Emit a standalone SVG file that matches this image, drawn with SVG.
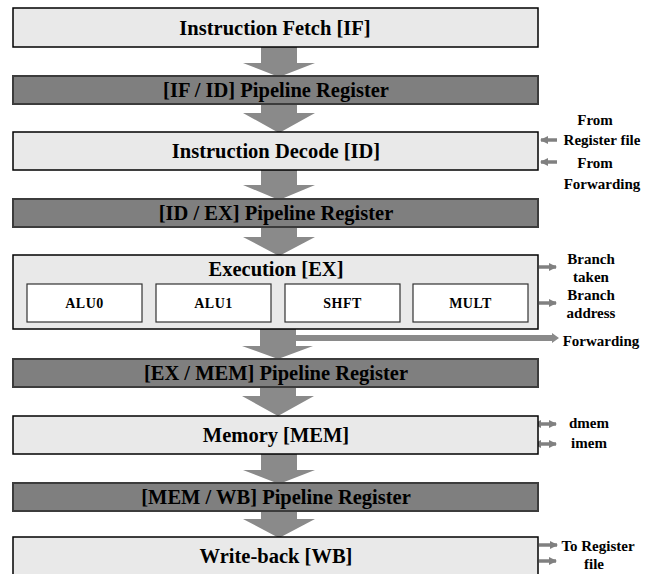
<svg xmlns="http://www.w3.org/2000/svg" width="650" height="574" viewBox="0 0 650 574">
<style>
.stage{fill:#e9e9e9;stroke:#000;stroke-width:1.5}
.reg{fill:#7f7f7f;stroke:#3c3c3c;stroke-width:2}
.unit{fill:#fff;stroke:#333;stroke-width:1.2}
.arrow{fill:#8a8a8a;stroke:none}
.side{stroke:#808080;stroke-width:3.5;fill:none}
.t{font-size:20.5px;text-anchor:middle}
.u{font-size:14px;text-anchor:middle;letter-spacing:0.5px}
.s{font-size:15px;text-anchor:middle}
</style>
<defs>
<marker id="ah" markerWidth="8" markerHeight="8" refX="7" refY="4" orient="auto" markerUnits="userSpaceOnUse">
<path d="M0,0 L8,4 L0,8 z" fill="#808080"/>
</marker>
<marker id="as" markerWidth="8" markerHeight="8" refX="1" refY="4" orient="auto-start-reverse" markerUnits="userSpaceOnUse">
<path d="M0,0 L8,4 L0,8 z" fill="#808080"/>
</marker>
</defs>

<g id="connectors">
<polygon class="arrow" points="261,47 297,47 297,63 315,63 279,77 243,63 261,63"/>
<polygon class="arrow" points="261,104 297,104 297,113 315,113 279,133 243,113 261,113"/>
<polygon class="arrow" points="261,170 297,170 297,185 315,185 279,200 243,185 261,185"/>
<polygon class="arrow" points="261,227 297,227 297,237 315,237 279,256 243,237 261,237"/>
<polygon class="arrow" points="260,329 296,329 296,346 313,346 278,359 242,346 260,346"/>
<polygon class="arrow" points="296,335 552,335 552,333 559,338 552,343 552,341 296,341"/>
<polygon class="arrow" points="260,387 296,387 296,396 314,396 278,416 242,396 260,396"/>
<polygon class="arrow" points="261,454 297,454 297,470 315,470 279,484 243,470 261,470"/>
<polygon class="arrow" points="261,511 297,511 297,519 315,519 279,538 243,519 261,519"/>
<line class="side" x1="557" y1="140" x2="541" y2="140" marker-end="url(#ah)"/>
<line class="side" x1="557" y1="162" x2="541" y2="162" marker-end="url(#ah)"/>
<line class="side" x1="539" y1="267" x2="556" y2="267" marker-end="url(#ah)"/>
<line class="side" x1="539" y1="303" x2="556" y2="303" marker-end="url(#ah)"/>
<line class="side" x1="540" y1="424" x2="556" y2="424" marker-start="url(#as)" marker-end="url(#ah)"/>
<line class="side" x1="540" y1="444" x2="556" y2="444" marker-start="url(#as)" marker-end="url(#ah)"/>
<line class="side" x1="539" y1="545" x2="557" y2="545" marker-end="url(#ah)"/>
<line class="side" x1="539" y1="561" x2="556" y2="561" marker-end="url(#ah)"/>
</g>

<g font-family="Liberation Serif, DejaVu Serif, serif" font-weight="bold" fill="#000">
<g id="if">
<rect class="stage" x="13" y="8" width="525" height="39"/>
<text class="t" x="275" y="35">Instruction Fetch [IF]</text>
</g>
<g id="if-id">
<rect class="reg" x="13" y="76" width="525" height="28"/>
<text class="t" x="276" y="97">[IF / ID] Pipeline Register</text>
</g>
<g id="id">
<rect class="stage" x="13" y="132" width="525" height="38"/>
<text class="t" x="276" y="158">Instruction Decode [ID]</text>
</g>
<g id="id-ex">
<rect class="reg" x="13" y="199" width="525" height="28"/>
<text class="t" x="276" y="220">[ID / EX] Pipeline Register</text>
</g>
<g id="ex">
<rect class="stage" x="13" y="255" width="525" height="74"/>
<text class="t" x="276" y="276">Execution [EX]</text>
<g id="alu0"><rect class="unit" x="27" y="284" width="115" height="38"/><text class="u" x="84.5" y="308">ALU0</text></g>
<g id="alu1"><rect class="unit" x="156" y="284" width="115" height="38"/><text class="u" x="213.5" y="308">ALU1</text></g>
<g id="shft"><rect class="unit" x="285" y="284" width="115" height="38"/><text class="u" x="342.5" y="308">SHFT</text></g>
<g id="mult"><rect class="unit" x="413" y="284" width="115" height="38"/><text class="u" x="470.5" y="308">MULT</text></g>
</g>
<g id="ex-mem">
<rect class="reg" x="13" y="359" width="525" height="28"/>
<text class="t" x="276" y="380">[EX / MEM] Pipeline Register</text>
</g>
<g id="mem">
<rect class="stage" x="13" y="416" width="525" height="38"/>
<text class="t" x="276" y="442">Memory [MEM]</text>
</g>
<g id="mem-wb">
<rect class="reg" x="13" y="483" width="525" height="28"/>
<text class="t" x="276" y="504">[MEM / WB] Pipeline Register</text>
</g>
<g id="wb">
<rect class="stage" x="13" y="537" width="525" height="45"/>
<text class="t" x="276" y="563">Write-back [WB]</text>
</g>

<g id="labels">
<text class="s" x="595" y="125">From</text>
<text class="s" x="602" y="145">Register file</text>
<text class="s" x="595" y="168">From</text>
<text class="s" x="602" y="189">Forwarding</text>
<text class="s" x="591" y="264">Branch</text>
<text class="s" x="591" y="282">taken</text>
<text class="s" x="591" y="300">Branch</text>
<text class="s" x="591" y="318">address</text>
<text class="s" x="601" y="346">Forwarding</text>
<text class="s" x="589" y="428">dmem</text>
<text class="s" x="589" y="448">imem</text>
<text class="s" x="598" y="551">To Register</text>
<text class="s" x="594" y="569">file</text>
</g>
</g>
</svg>
